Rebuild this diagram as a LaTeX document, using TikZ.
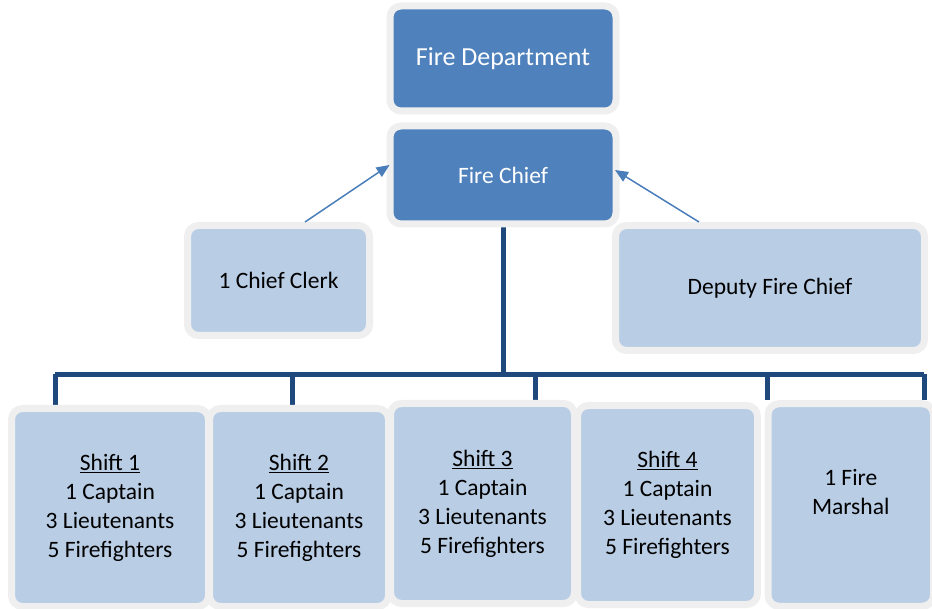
\documentclass[tikz,border=0pt]{standalone}
\usepackage{fontspec}
\setmainfont{Carlito}
\usetikzlibrary{arrows.meta, backgrounds}

\definecolor{headblue}{HTML}{4F81BD}
\definecolor{staffblue}{HTML}{B9CDE5}
\definecolor{framegray}{HTML}{EFEFEF}
\definecolor{barblue}{HTML}{1F497D}
\definecolor{arrowblue}{HTML}{4A7EBB}

\begin{document}
\begin{tikzpicture}[x=1pt, y=-1pt,
    unit/.style={draw=framegray, line width=7pt, rounded corners=11pt,
                 inner sep=0pt, align=center, fill=#1},
    head/.style={unit=headblue, text=white},
    staff/.style={unit=staffblue, text=black,
                  font=\fontsize{23.5}{29}\selectfont},
    link/.style={draw=barblue, line width=5pt},
    report/.style={draw=arrowblue, line width=1.5pt,
                   -{Triangle[length=13pt, width=11pt]}}
  ]
  \useasboundingbox (0,0) rectangle (932,609);

  % Command
  \node[head, font=\fontsize{26}{31}\selectfont, minimum width=226pt,
        minimum height=105pt] (dept) at (503,58.5) {Fire Department};
  \node[head, font=\fontsize{23.5}{29}\selectfont, minimum width=226pt,
        minimum height=98pt] (chief) at (503,175) {Fire Chief};

  % Staff
  \node[staff, minimum width=182pt, minimum height=110pt] (clerk)
    at (278.5,280.5) {1 Chief Clerk};
  \node[staff, minimum width=309pt, minimum height=125pt] (deputy)
    at (770,288) {Deputy Fire Chief};

  % Shifts
  \node[staff, minimum width=197pt, minimum height=198pt] (shift1)
    at (110,507.5)
    {\underline{Shift 1}\\1 Captain\\3 Lieutenants\\5 Firefighters};
  \node[staff, minimum width=179pt, minimum height=198pt] (shift2)
    at (299,507.5)
    {\underline{Shift 2}\\1 Captain\\3 Lieutenants\\5 Firefighters};
  \node[staff, minimum width=184pt, minimum height=200pt] (shift3)
    at (482.5,503.5)
    {\underline{Shift 3}\\1 Captain\\3 Lieutenants\\5 Firefighters};
  \node[staff, minimum width=180pt, minimum height=199pt] (shift4)
    at (667.5,505)
    {\underline{Shift 4}\\1 Captain\\3 Lieutenants\\5 Firefighters};
  \node[staff, minimum width=165.5pt, minimum height=202.5pt] (marshal)
    at (850.75,505) {1 Fire\\Marshal\\[-12pt]\strut};

  % Chain of command
  \begin{pgfonlayer}{background}
    \coordinate (busL) at (55,374.5);
    \coordinate (busR) at (924,374.5);
    \draw[link] (chief.south) -- (chief.south |- busL);
    \draw[link] (busL) -- (busR);
    \draw[link] (busL) -- (busL |- shift1.north);
    \draw[link] (busR) -- (busR |- marshal.north);
    \foreach \x/\n in {292/shift2, 535/shift3, 767/marshal}
      \draw[link] (\x,374.5) -- (\n.north -| \x,0);
  \end{pgfonlayer}

  % Reporting arrows
  \draw[report] ([xshift=26.5pt]clerk.north)
    -- ([xshift=3pt, yshift=10pt]chief.west);
  \draw[report] ([xshift=-71pt]deputy.north)
    -- ([xshift=-4.5pt, yshift=5pt]chief.east);

\end{tikzpicture}
\end{document}
